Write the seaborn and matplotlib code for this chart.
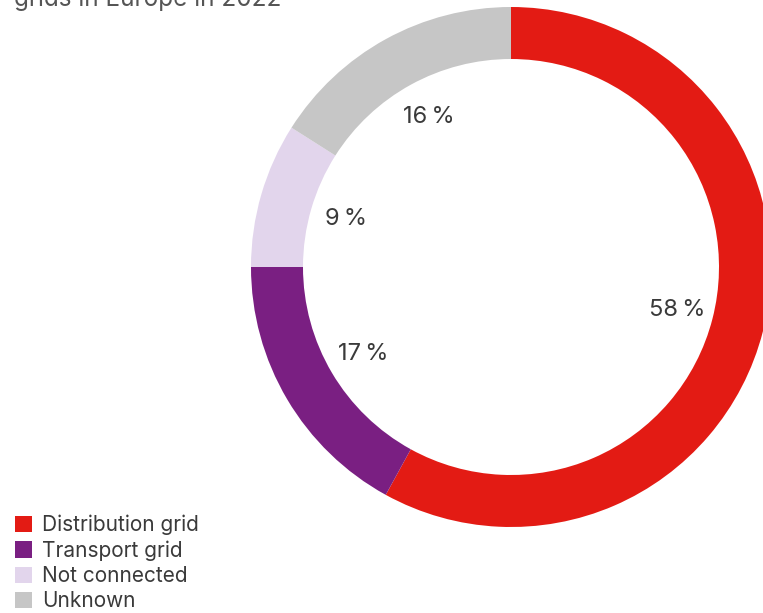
import matplotlib
matplotlib.use("Agg")
import matplotlib.pyplot as plt
import seaborn as sns
from matplotlib.patches import Patch

categories = ["Distribution grid", "Transport grid", "Not connected", "Unknown"]
values = [58, 17, 9, 16]
colors = ["#E31B14", "#7A1F82", "#E2D5EC", "#C6C6C6"]
title = "grids in Europe in 2022"

sns.set_theme(style="white")
plt.rcParams['font.family'] = ['Inter', 'DejaVu Sans']
text_color = "#3a3a3a"

W, H = 763, 613
fig = plt.figure(figsize=(W / 100, H / 100), dpi=100)
cx, cy, r = 511, 267, 260
ax = fig.add_axes([(cx - r) / W, (H - cy - r) / H, 2 * r / W, 2 * r / H])

wedges, texts, autotexts = ax.pie(
    values, colors=colors, startangle=90, counterclock=False, radius=1.0,
    wedgeprops=dict(width=0.2, linewidth=0),
    autopct=lambda p: f"{p:.0f}\u2009%", pctdistance=0.66,
    textprops=dict(color=text_color, fontsize=17),
)
ax.set_xlim(-1, 1)
ax.set_ylim(-1, 1)
ax.set_aspect("equal")
ax.axis("off")

fig.text(14 / W, 1 - 6 / H, title, fontsize=17.5, color="#555555", va="baseline", ha="left")

handles = [Patch(facecolor=c, edgecolor="none", label=l) for c, l in zip(colors, categories)]
fig.legend(handles=handles, loc="lower left", bbox_to_anchor=(0.0, -0.021),
           frameon=False, fontsize=15, handlelength=0.85, handleheight=0.85,
           handletextpad=0.45, labelspacing=0.25, borderaxespad=0.3,
           labelcolor=text_color)

fig.savefig("out.png", dpi=100)
